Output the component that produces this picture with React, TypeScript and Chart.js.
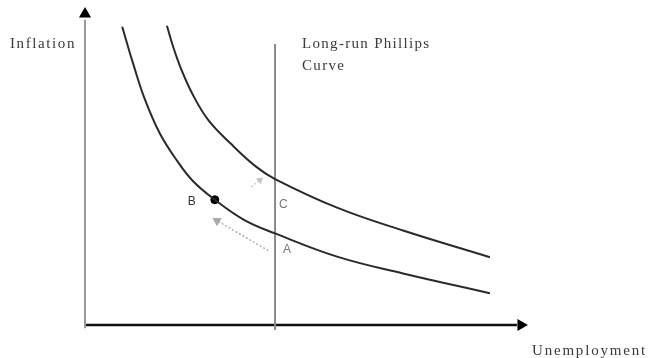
import React, { useEffect, useRef } from "react";
import { Chart, registerables } from "chart.js";

Chart.register(...registerables);

// Short-run Phillips curves (unemployment %, inflation %)
const unemploymentLower = [0.84, 1.08, 1.35, 1.69, 2.08, 2.44, 2.93, 3.61, 4.29, 5.69, 7.18, 9.14];
const inflationLower = [9.38, 8.25, 7.1, 6.02, 5.16, 4.52, 3.94, 3.29, 2.88, 2.15, 1.62, 1.0];
const unemploymentUpper = [1.85, 1.99, 2.17, 2.42, 2.78, 3.3, 3.86, 4.29, 5.69, 7.18, 9.14];
const inflationUpper = [9.41, 8.75, 8.05, 7.28, 6.45, 5.69, 4.98, 4.59, 3.69, 2.97, 2.13];

// Long-run Phillips curve
const naturalRate = 4.29;
const lrpcRange = [-0.16, 8.84];

// Labelled points
const pointNames = ["B", "C", "A"];
const pointUnemployment = [2.93, 4.29, 4.29];
const pointInflation = [3.94, 4.59, 2.88];

// Movement arrows
const arrowAtoB = { u: [4.14, 2.98], i: [2.34, 3.28] };
const arrowToC = { u: [3.75, 3.95], i: [4.34, 4.56] };

const axisMax = 10;
const yLabel = "Inflation";
const xLabel = "Unemployment";
const lrpcLabel = ["Long-run Phillips", "Curve"];

const toPts = (xs: number[], ys: number[]) => xs.map((x, k) => ({ x, y: ys[k] }));

export default function App() {
  const ref = useRef<HTMLCanvasElement | null>(null);
  useEffect(() => {
    if (!ref.current) return;
    const textPlugin = {
      id: "texts",
      afterDatasetsDraw(chart: any) {
        const { ctx, chartArea, scales } = chart;
        const sx = scales.x, sy = scales.y;
        ctx.save();
        const draw = (t: string, x: number, y: number, font: string, color: string, ls: string) => {
          ctx.font = font;
          ctx.fillStyle = color;
          (ctx as any).letterSpacing = ls;
          ctx.textAlign = "left";
          ctx.textBaseline = "alphabetic";
          ctx.fillText(t, x, y);
        };
        const serif = '15px "Liberation Serif", "DejaVu Serif", serif';
        draw(yLabel, 10, chartArea.top + 41, serif, "#3a3a3a", "1.6px");
        draw(xLabel, chartArea.right + 4, chartArea.bottom + 30, serif, "#3a3a3a", "1.8px");
        const lx = sx.getPixelForValue(naturalRate) + 27;
        draw(lrpcLabel[0], lx, chartArea.top + 41, serif, "#3a3a3a", "1.3px");
        draw(lrpcLabel[1], lx, chartArea.top + 63, serif, "#3a3a3a", "1.3px");
        const sans = '12px "Liberation Sans", "DejaVu Sans", sans-serif';
        const offsets = [[-27, 5], [4, 29], [8, 20]];
        const colors = ["#333", "#777", "#777"];
        pointNames.forEach((n, k) => {
          const px = sx.getPixelForValue(pointUnemployment[k]) + offsets[k][0];
          const py = sy.getPixelForValue(pointInflation[k]) + offsets[k][1];
          draw(n, px, py, sans, colors[k], "0px");
        });
        ctx.restore();
      },
    };
    const chart = new Chart(ref.current, {
      type: "scatter",
      data: {
        datasets: [
          {
            data: toPts(unemploymentLower, inflationLower),
            showLine: true,
            borderColor: "#2a2a2a",
            borderWidth: 2,
            pointRadius: 0,
            tension: 0.4,
          },
          {
            data: toPts(unemploymentUpper, inflationUpper),
            showLine: true,
            borderColor: "#2a2a2a",
            borderWidth: 2,
            pointRadius: 0,
            tension: 0.4,
          },
          {
            data: toPts([naturalRate, naturalRate], lrpcRange),
            showLine: true,
            borderColor: "#8a8a8a",
            borderWidth: 2,
            pointRadius: 0,
          },
          {
            data: toPts([0, 0], [-0.1, 9.6]),
            showLine: true,
            borderColor: "#9a9a9a",
            borderWidth: 2,
            pointRadius: 0,
          },
          {
            data: toPts([-0.02, 9.75], [0, 0]),
            showLine: true,
            borderColor: "#111",
            borderWidth: 2.5,
            pointRadius: 0,
          },
          {
            data: [{ x: 0, y: 9.78 }],
            pointStyle: "triangle",
            pointRadius: 7,
            backgroundColor: "#000",
            borderColor: "#000",
            borderWidth: 0,
          },
          {
            data: [{ x: 9.84, y: 0 }],
            pointStyle: "triangle",
            rotation: 90,
            pointRadius: 7,
            backgroundColor: "#000",
            borderColor: "#000",
            borderWidth: 0,
          },
          {
            data: [{ x: pointUnemployment[0], y: pointInflation[0] }],
            pointRadius: 4,
            backgroundColor: "#000",
            borderColor: "#000",
          },
          {
            data: toPts(arrowAtoB.u, arrowAtoB.i),
            showLine: true,
            borderColor: "#b0b0b0",
            borderWidth: 1.5,
            borderDash: [2, 2],
            pointRadius: [0, 4],
            pointStyle: "triangle",
            rotation: -59,
            backgroundColor: "#aaa",
            pointBorderColor: "#aaa",
          },
          {
            data: toPts(arrowToC.u, arrowToC.i),
            showLine: true,
            borderColor: "#c4c4c4",
            borderWidth: 1.2,
            borderDash: [2, 2],
            pointRadius: [0, 3],
            pointStyle: "triangle",
            rotation: 52,
            backgroundColor: "#c4c4c4",
            pointBorderColor: "#c4c4c4",
          },
        ] as any,
      },
      options: {
        animation: false,
        responsive: false,
        maintainAspectRatio: false,
        layout: { padding: { left: 85, right: 125, top: 5, bottom: 33 } },
        scales: {
          x: { type: "linear", min: 0, max: axisMax, display: false },
          y: { type: "linear", min: 0, max: axisMax, display: false },
        },
        plugins: { legend: { display: false }, tooltip: { enabled: false } },
        elements: { line: { tension: 0 } },
        datasets: { scatter: { clip: false } as any },
      } as any,
      plugins: [textPlugin],
    });
    return () => chart.destroy();
  }, []);
  return (
    <div style={{ position: "fixed", left: 0, top: 0, width: 653, height: 358, background: "#fff" }}>
      <canvas ref={ref} width={653} height={358} style={{ width: 653, height: 358 }} />
    </div>
  );
}
